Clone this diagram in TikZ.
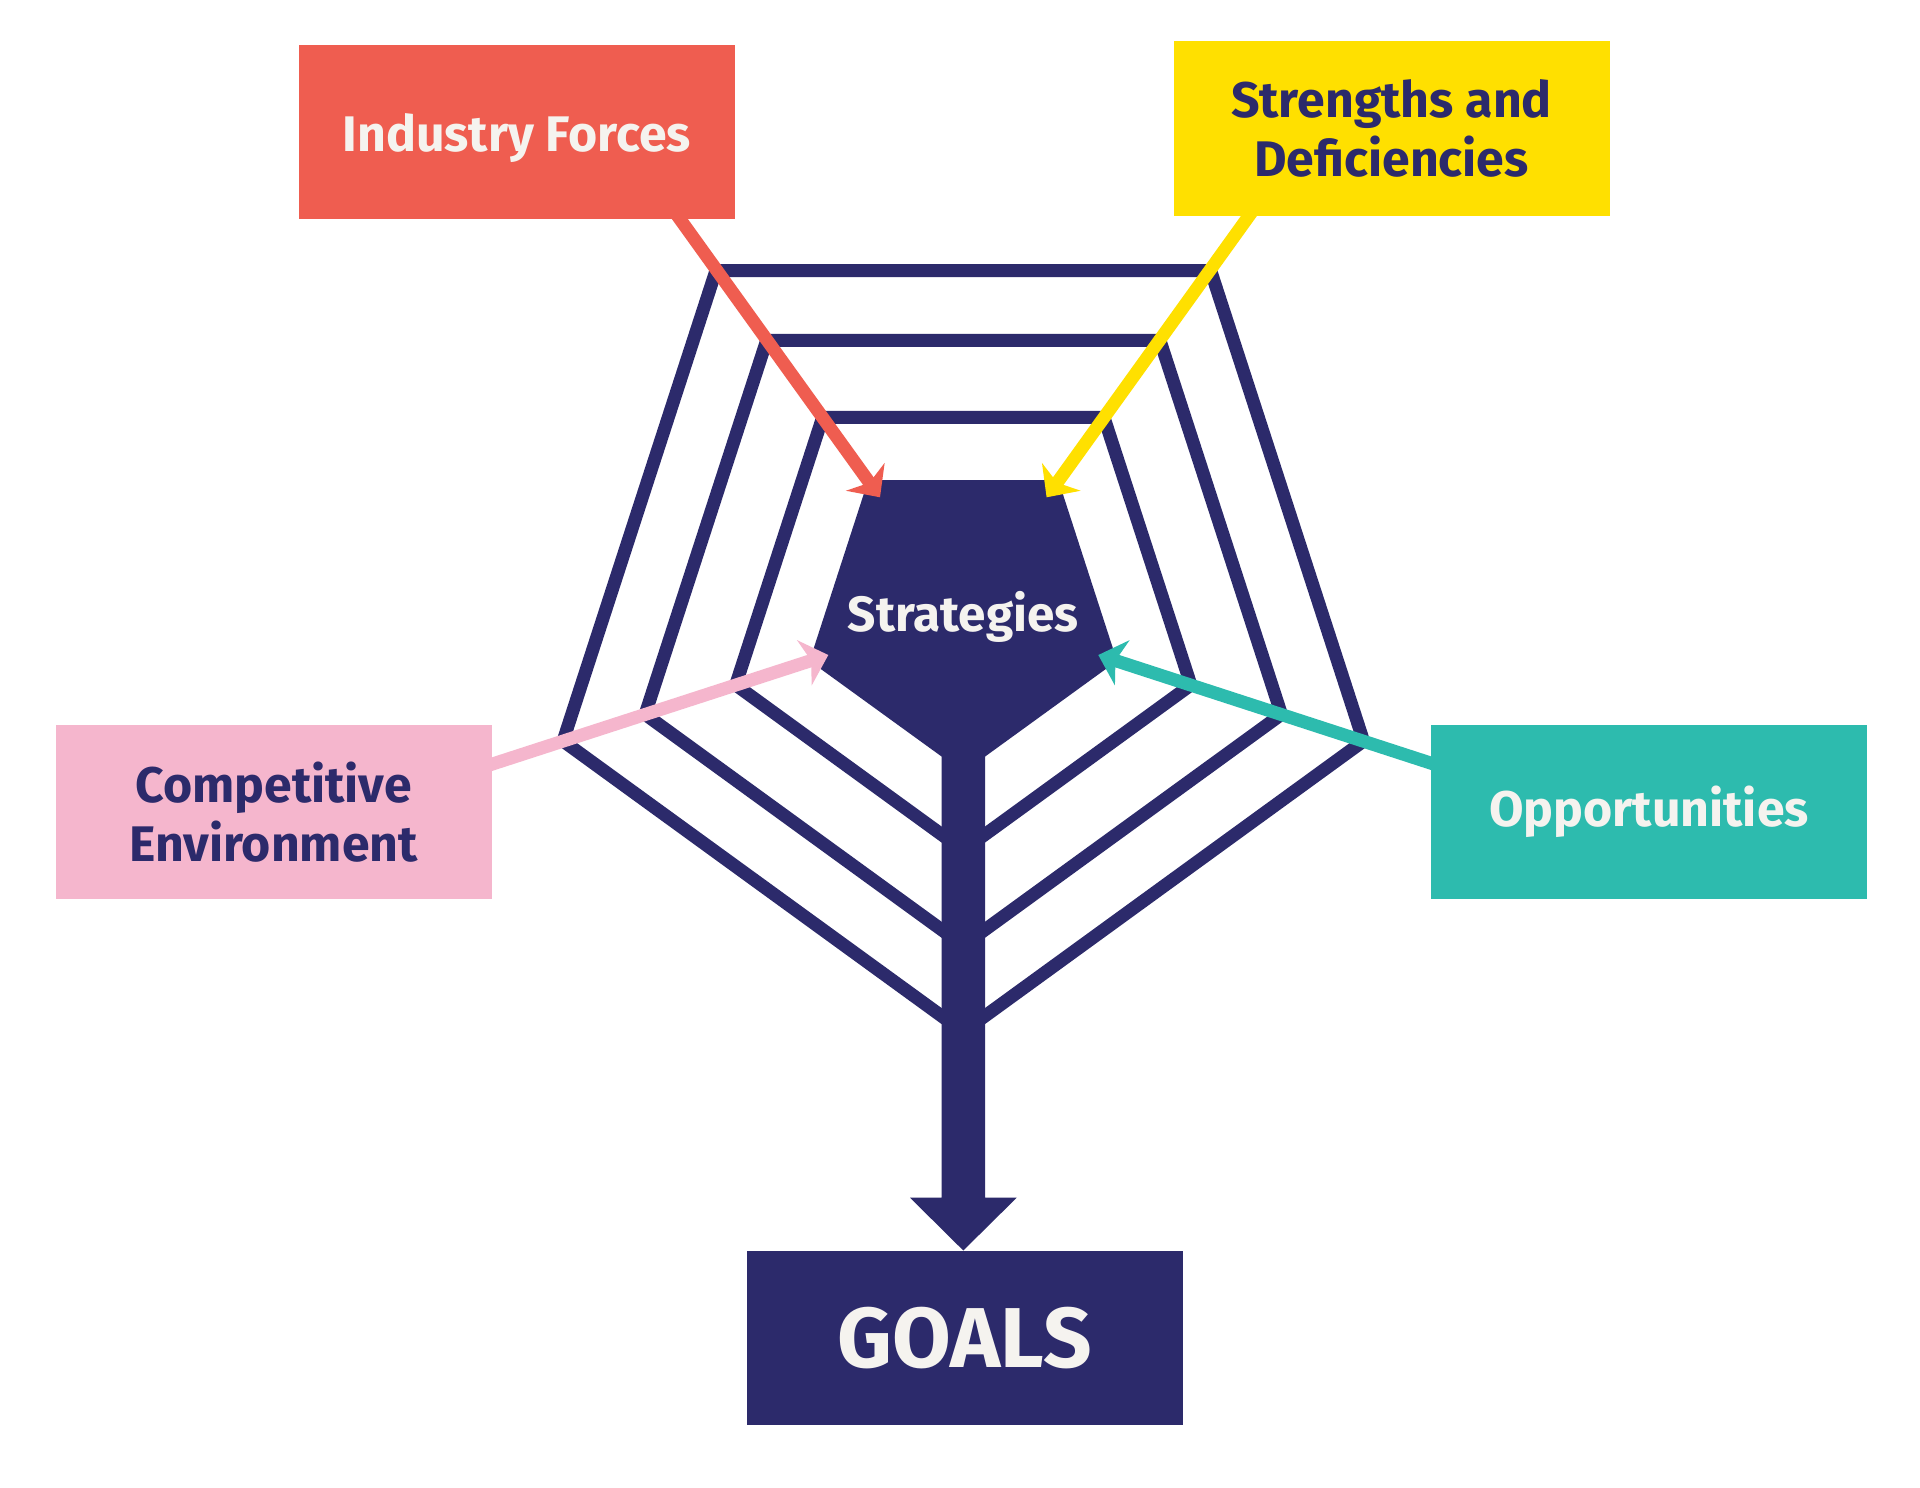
\documentclass[tikz,border=0pt]{standalone}
\usepackage{fontspec}
\setmainfont{Fira Sans}
\usetikzlibrary{arrows.meta,calc}
\definecolor{navy}{HTML}{2C2A6B}
\definecolor{fRed}{HTML}{EF5D50}
\definecolor{fYel}{HTML}{FFE000}
\definecolor{fPink}{HTML}{F5B6CD}
\definecolor{fTeal}{HTML}{2DBBAE}
\definecolor{ltext}{HTML}{F5F3EF}
\begin{document}
\begin{tikzpicture}[x=1pt,y=-1pt,
  pent/.style={draw=navy, line width=13pt, miter limit=10},
  conn/.style={line width=13pt, -{Stealth[length=25pt,width=47pt,inset=7pt]}},
  box/.style={minimum width=436pt, minimum height=174pt, inner sep=0pt, align=center,
    font=\fontsize{50}{59}\selectfont\bfseries},
  onerow/.style={text depth=0pt},
  ]
\useasboundingbox[fill=white] (0,0) rectangle (1920,1488);
\coordinate (ctr) at (963.3,611);

% concentric pentagon outlines
\foreach \r in {239.3,334.5,420.8}
  \draw[pent] ($(ctr)+({-0.5878*\r},{-0.8090*\r})$) -- ($(ctr)+({0.5878*\r},{-0.8090*\r})$)
    -- ($(ctr)+({0.9511*\r},{0.3090*\r})$) -- ($(ctr)+(0,\r)$)
    -- ($(ctr)+({-0.9511*\r},{0.3090*\r})$) -- cycle;

% filled strategies pentagon with stem and arrow to goals
\fill[navy] ($(ctr)+(-95,-131)$) -- ($(ctr)+(95,-131)$) -- ($(ctr)+(153.7,49.9)$)
  -- (985,756.6) -- (985,1197.7) -- (1016.7,1197.7) -- (963.3,1250.5)
  -- (910,1197.7) -- (941.7,1197.7) -- (941.7,756.6)
  -- ($(ctr)+(-153.7,49.9)$) -- cycle;

% connector end points
\coordinate (rS) at (666.2,200);   \coordinate (rT) at (880,497.3);
\coordinate (yS) at (1260.4,200);  \coordinate (yT) at (1046.6,497.3);
\coordinate (pS) at (470,771.3);   \coordinate (pT) at (828.3,655);
\coordinate (tS) at (1456,771.3);  \coordinate (tT) at (1098.3,655);

\draw[conn, draw=fRed, fill=fRed] (rS) -- (rT);
\draw[conn, draw=fYel, fill=fYel] (yS) -- (yT);
\draw[conn, draw=fPink, fill=fPink] (pS) -- (pT);
\draw[conn, draw=fTeal, fill=fTeal] (tS) -- (tT);

% boxes
\node[box, onerow, fill=fRed, text=ltext] (ind) at (516.8,132.3) {Industry Forces};
\node[box, fill=fYel, text=navy] (sd) at (1391.5,128.5) {Strengths and\\Deficiencies};
\node[box, fill=fPink, text=navy] (comp) at (273.5,812) {Competitive\\Environment};
\node[box, fill=fTeal, text=ltext] (opp) at (1649,812) {Opportunities};
\node[box, fill=navy, text=ltext, font=\fontsize{85}{90}\selectfont\bfseries] (goals) at (965,1338) {GOALS};
\node[onerow, text=ltext, inner sep=0pt, font=\fontsize{49.5}{56}\selectfont\bfseries] (strat) at (ctr) {Strategies};
\end{tikzpicture}
\end{document}
